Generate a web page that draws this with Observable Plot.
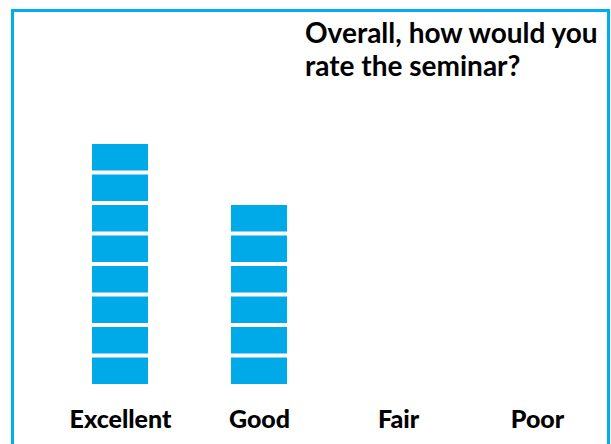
<!DOCTYPE html>
<html>
<head>
<meta charset="utf-8">
<script src="https://cdn.jsdelivr.net/npm/d3@7"></script>
<script src="https://cdn.jsdelivr.net/npm/@observablehq/plot@0.6"></script>
<style>
  html, body { margin: 0; padding: 0; background: #fff; }
  #wrap { position: relative; width: 611px; height: 444px; overflow: hidden; font-family: Lato, "DejaVu Sans", sans-serif; }
  #frame { position: absolute; left: 11px; top: 9px; width: 593px; height: 460px; border: 3px solid #00aeef; border-bottom: none; box-sizing: content-box; }
  #title { position: absolute; left: 305px; top: 16px; font-weight: 700; font-size: 28px; line-height: 33px; color: #000; white-space: nowrap; }
  #chart { position: absolute; left: 0; top: 0; }
</style>
</head>
<body>
<div id="wrap">
  <div id="frame"></div>
  <div id="chart"></div>
  <div id="title">Overall, how would you<br>rate the seminar?</div>
</div>
<script>
const categories = ["Excellent", "Good", "Fair", "Poor"];
const counts = [8, 6, 0, 0];
const barColor = "#00aae9";

const units = [];
categories.forEach((c, i) => {
  for (let k = 0; k < counts[i]; k++) units.push({category: c, k});
});

const chart = Plot.plot({
  width: 611,
  height: 444,
  marginLeft: 92,
  marginRight: 46,
  marginTop: 142,
  marginBottom: 58,
  style: {background: "transparent", fontFamily: "Lato, 'DejaVu Sans', sans-serif"},
  x: {domain: categories, paddingInner: 0.6, paddingOuter: 0, label: null},
  y: {domain: [0, 8], axis: null},
  marks: [
    Plot.rectY(units, {
      x: "category",
      y1: d => d.k,
      y2: d => d.k + 1,
      fill: barColor,
      insetTop: 2,
      insetBottom: 2
    }),
    Plot.axisX({
      anchor: "bottom",
      tickSize: 0,
      tickPadding: 24,
      fontSize: 25,
      fontWeight: 900,
      fill: "#000",
      label: null
    })
  ]
});
document.getElementById("chart").appendChild(chart);
</script>
</body>
</html>
